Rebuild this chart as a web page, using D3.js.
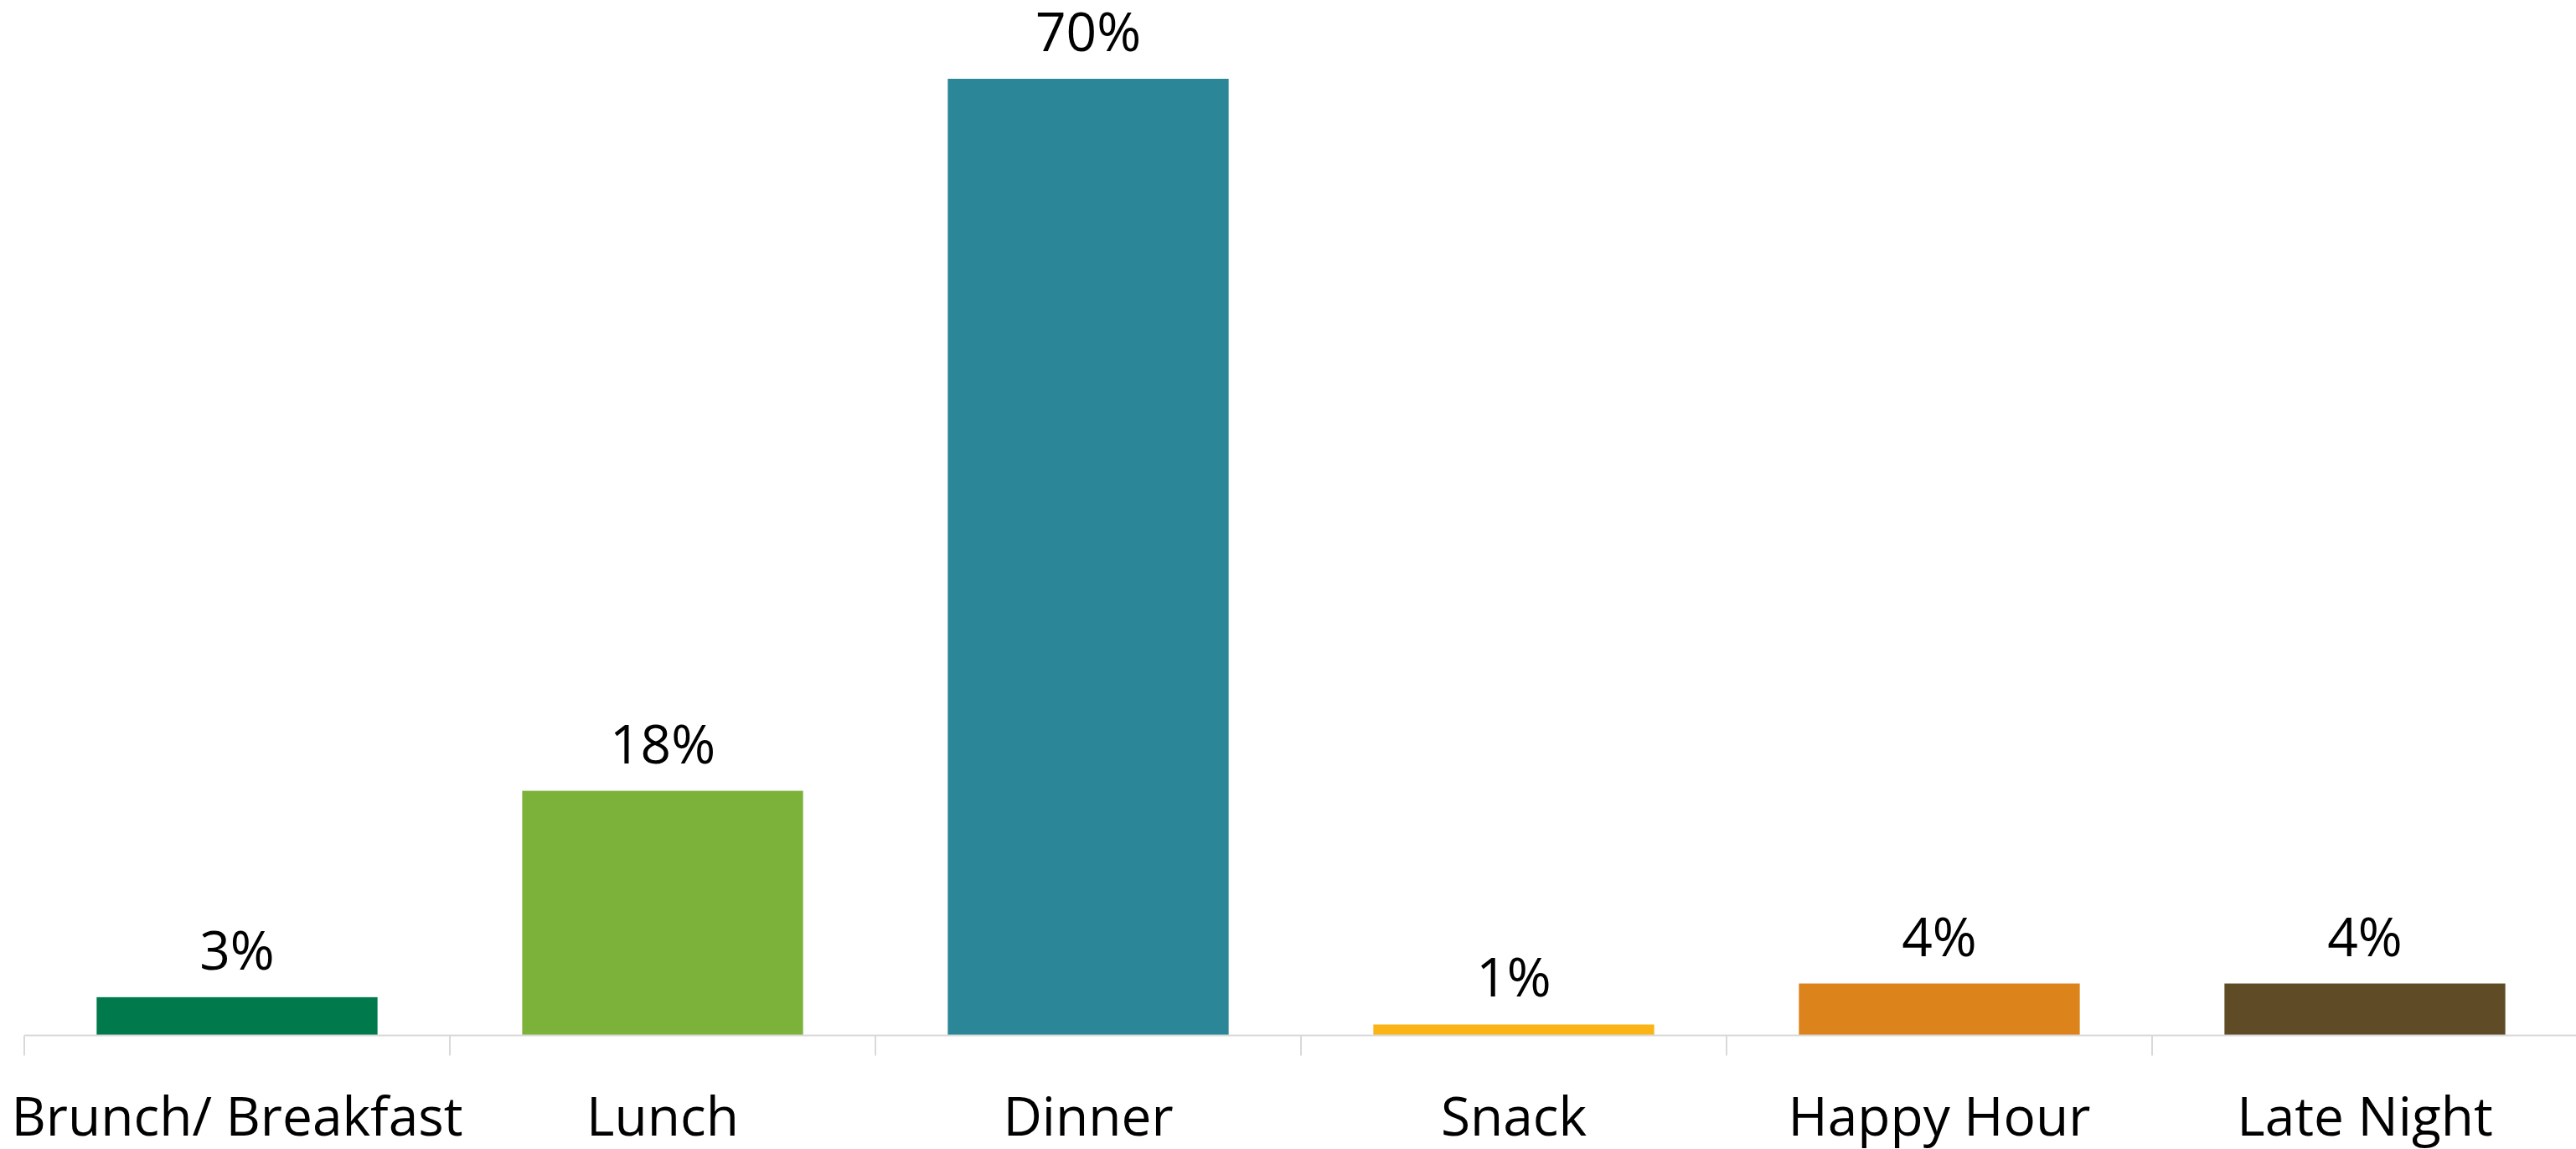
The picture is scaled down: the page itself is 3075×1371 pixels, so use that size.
<!DOCTYPE html>
<html>
<head>
<meta charset="utf-8">
<script src="https://cdn.jsdelivr.net/npm/d3@7"></script>
<style>
  html, body { margin: 0; padding: 0; background: #ffffff; }
  svg { display: block; }
</style>
</head>
<body>
<svg id="chart" width="3075" height="1371"></svg>
<script>
const categories = ["Brunch/ Breakfast", "Lunch", "Dinner", "Snack", "Happy Hour", "Late Night"];
const values = [0.028, 0.179, 0.70, 0.008, 0.038, 0.038];
const colors = ["#00794c", "#7db23a", "#2b8797", "#fbb416", "#dd831c", "#604b27"];

const width = 3075, height = 1371;
const axisY = 1235.5;
const svg = d3.select("#chart");

const x = d3.scaleBand().domain(categories).range([29, 29 + 508 * 6]).paddingInner(0.34).paddingOuter(0.17);
const y = d3.scaleLinear().domain([0, 0.70]).range([axisY, 94]);

const font = "'Open Sans', 'Noto Sans', sans-serif";
const fontSize = 64;

// bars
svg.append("g").selectAll("rect").data(categories).join("rect")
  .attr("x", d => x(d))
  .attr("width", x.bandwidth())
  .attr("y", (d, i) => y(values[i]))
  .attr("height", (d, i) => axisY - y(values[i]))
  .attr("fill", (d, i) => colors[i]);

// axis line + ticks at band boundaries
const axis = svg.append("g");
axis.append("line")
  .attr("x1", x.range()[0]).attr("x2", width)
  .attr("y1", axisY).attr("y2", axisY)
  .attr("stroke", "#d9d9d9").attr("stroke-width", 2);
const step = x.step();
axis.selectAll("line.tick").data(d3.range(categories.length + 1)).join("line")
  .attr("class", "tick")
  .attr("x1", i => x.range()[0] + i * step).attr("x2", i => x.range()[0] + i * step)
  .attr("y1", axisY).attr("y2", axisY + 24)
  .attr("stroke", "#d9d9d9").attr("stroke-width", 2);

// value labels
const fmt = d3.format(".0%");
svg.append("g").selectAll("text").data(categories).join("text")
  .attr("x", d => x(d) + x.bandwidth() / 2)
  .attr("y", (d, i) => y(values[i]) - 33)
  .attr("text-anchor", "middle")
  .attr("font-family", font)
  .attr("font-size", fontSize)
  .attr("fill", "#000")
  .text((d, i) => fmt(values[i]));

// category labels
svg.append("g").selectAll("text").data(categories).join("text")
  .attr("x", d => x(d) + x.bandwidth() / 2)
  .attr("y", 1355)
  .attr("text-anchor", "middle")
  .attr("font-family", font)
  .attr("font-size", fontSize)
  .attr("fill", "#000")
  .text(d => d);
</script>
</body>
</html>
